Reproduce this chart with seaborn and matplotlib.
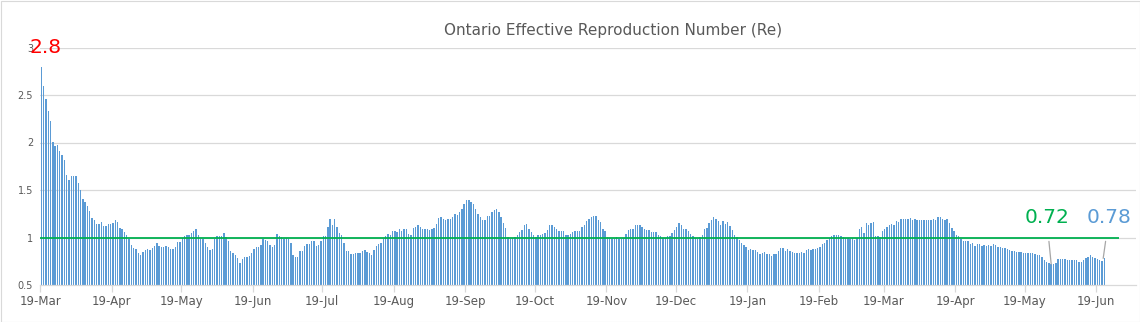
import numpy as np
import pandas as pd
import matplotlib
matplotlib.use("Agg")
import matplotlib.pyplot as plt
import seaborn as sns
from matplotlib.patches import Rectangle

# ---------------- data ----------------
start_date = "2020-03-19"

re_2020_mar_may = [
    2.80, 2.59, 2.46, 2.33, 2.23, 2.01, 1.96, 1.97, 1.91, 1.87,
    1.82, 1.66, 1.61, 1.65, 1.65, 1.65, 1.57, 1.50, 1.41, 1.37,
    1.33, 1.28, 1.21, 1.18, 1.14, 1.14, 1.16, 1.12, 1.12, 1.14,
    1.14, 1.15, 1.18, 1.16, 1.10, 1.09, 1.06, 1.03, 0.98, 0.92,
    0.89, 0.88, 0.84, 0.82, 0.85, 0.87, 0.88, 0.87, 0.89, 0.91,
    0.94, 0.91, 0.90, 0.90, 0.91, 0.90, 0.88, 0.88, 0.90, 0.95,
    0.95, 0.99, 1.02, 1.03, 1.03, 1.05, 1.07, 1.09, 1.03, 0.98,
    0.98, 0.94, 0.90, 0.87, 0.88, 0.98, 1.02, 1.02, 1.02, 1.05,
    1.01, 0.96,
]
re_2020_jun_aug = [
    0.86, 0.84, 0.82, 0.78, 0.73, 0.77, 0.79, 0.80, 0.81, 0.84,
    0.88, 0.90, 0.90, 0.92, 0.98, 0.97, 0.96, 0.92, 0.90, 0.92,
    1.04, 1.02, 1.01, 0.98, 1.00, 0.98, 0.94, 0.82, 0.79, 0.80,
    0.86, 0.86, 0.91, 0.93, 0.93, 0.96, 0.96, 0.91, 0.92, 0.96,
    1.02, 1.02, 1.11, 1.19, 1.13, 1.20, 1.11, 1.05, 1.03, 0.94,
    0.86, 0.86, 0.83, 0.83, 0.84, 0.84, 0.84, 0.86, 0.87, 0.85,
    0.84, 0.82, 0.87, 0.91, 0.93, 0.94, 0.98, 1.02, 1.04, 1.03,
    1.07, 1.07, 1.06, 1.09, 1.07, 1.09, 1.09, 1.04, 1.03, 1.10,
]
re_2020_sep_nov = [
    1.11, 1.13, 1.11, 1.09, 1.09, 1.09, 1.08, 1.09, 1.10, 1.14,
    1.21, 1.22, 1.19, 1.18, 1.19, 1.20, 1.22, 1.25, 1.24, 1.27,
    1.30, 1.35, 1.40, 1.40, 1.37, 1.35, 1.30, 1.25, 1.22, 1.18,
    1.18, 1.23, 1.23, 1.27, 1.29, 1.30, 1.27, 1.22, 1.15, 1.10,
    1.01, 0.98, 0.99, 1.01, 1.03, 1.06, 1.08, 1.13, 1.14, 1.09,
    1.06, 1.03, 1.01, 1.03, 1.03, 1.04, 1.05, 1.08, 1.13, 1.13,
    1.11, 1.09, 1.07, 1.07, 1.07, 1.03, 1.03, 1.04, 1.06, 1.07,
    1.07, 1.07, 1.11, 1.13, 1.17, 1.20, 1.22, 1.23, 1.23, 1.18,
    1.16, 1.09, 1.07,
]
re_2020_dec_2021_feb = [
    1.01, 0.99, 0.98, 0.98, 1.01, 0.98, 0.98, 1.00, 1.04, 1.08,
    1.09, 1.09, 1.13, 1.13, 1.13, 1.11, 1.09, 1.08, 1.08, 1.06,
    1.06, 1.06, 1.03, 1.02, 1.00, 0.99, 1.02, 1.02, 1.05, 1.08,
    1.11, 1.15, 1.13, 1.09, 1.09, 1.07, 1.04, 1.02, 1.00, 0.98,
    1.01, 1.03, 1.09, 1.10, 1.15, 1.18, 1.22, 1.19, 1.17, 1.13,
    1.17, 1.14, 1.16, 1.12, 1.08, 1.03, 1.01, 0.97, 0.94, 0.92,
    0.90, 0.87, 0.88, 0.87, 0.87, 0.85, 0.83, 0.84, 0.85, 0.83,
    0.83, 0.81, 0.83, 0.83, 0.86, 0.89, 0.89, 0.86, 0.88, 0.86,
    0.85, 0.84, 0.84, 0.84, 0.85, 0.84, 0.87, 0.88, 0.87, 0.88,
    0.88,
]
re_2021_feb_apr = [
    0.89, 0.90, 0.93, 0.94, 0.97, 0.99, 1.02, 1.03, 1.03, 1.03,
    1.02, 1.01, 1.00, 0.99, 0.98, 0.99, 0.97, 0.99, 1.09, 1.11,
    1.05, 1.15, 1.13, 1.15, 1.16, 1.02, 1.02, 1.01, 1.07, 1.09,
    1.11, 1.13, 1.14, 1.13, 1.17, 1.16, 1.19, 1.20, 1.20, 1.20,
    1.21, 1.18, 1.19, 1.18, 1.18, 1.18, 1.18, 1.18, 1.18, 1.18,
    1.19, 1.18, 1.22, 1.22, 1.20, 1.18, 1.19, 1.15, 1.10, 1.07,
    1.03, 1.02, 0.98, 0.96, 0.96, 0.96, 0.93, 0.94, 0.91, 0.93,
    0.93, 0.91, 0.92,
]
re_2021_may_jun = [
    0.91, 0.92, 0.91, 0.93, 0.92, 0.90, 0.90, 0.89, 0.89, 0.88,
    0.87, 0.86, 0.86, 0.85, 0.85, 0.85, 0.84, 0.84, 0.84, 0.84,
    0.84, 0.83, 0.82, 0.82, 0.80, 0.76, 0.74, 0.73, 0.72, 0.72,
    0.73, 0.77, 0.77, 0.77, 0.77, 0.76, 0.76, 0.76, 0.76, 0.76,
    0.74, 0.74, 0.76, 0.78, 0.80, 0.82, 0.80, 0.78, 0.77, 0.76,
    0.75, 0.78,
]

re_values = (re_2020_mar_may + re_2020_jun_aug + re_2020_sep_nov
             + re_2020_dec_2021_feb + re_2021_feb_apr + re_2021_may_jun)

threshold = 1.0
title_text = "Ontario Effective Reproduction Number (Re)"
y_ticks = [0.5, 1, 1.5, 2, 2.5, 3]
y_tick_labels = ["0.5", "1", "1.5", "2", "2.5", "3"]
first_label = "2.8"
min_label = "0.72"
last_label = "0.78"

# ---------------- frame ----------------
dates = pd.date_range(start_date, periods=len(re_values), freq="D")
df = pd.DataFrame({"day": np.arange(len(re_values)), "re": re_values})

sns.set_theme(style="white")
plt.rcParams["font.family"] = ["DejaVu Sans"]

W, H = 1140, 322
fig = plt.figure(figsize=(W / 100, H / 100), dpi=100)
ax = fig.add_axes([40 / W, 1 - 285 / H, (1136 - 40) / W, (285 - 47.5) / H])

bar_color = "#5B9BD5"
green = "#00B050"
text_gray = "#595959"
grid_gray = "#D9D9D9"

sns.barplot(data=df, x="day", y="re", native_scale=True, color=bar_color,
            saturation=1, width=0.6, errorbar=None, ax=ax, linewidth=0,
            zorder=2)

ax.set_ylim(0.5, 3.0)
ax.set_xlim(-0.55, 473.7)
ax.set_yticks(y_ticks)
ax.set_yticklabels(y_tick_labels)
for y in y_ticks[1:]:
    ax.axhline(y, color=grid_gray, lw=0.9, zorder=1)

# threshold line
ax.hlines(threshold, -0.5, 466.5, color=green, lw=1.3, zorder=3)

# monthly ticks on the 19th
tick_idx = [i for i, d in enumerate(dates) if d.day == 19]
ax.set_xticks([i - 0.5 for i in tick_idx])
ax.set_xticklabels([f"{dates[i].day}-{dates[i].strftime('%b')}" for i in tick_idx])

for s in ["left", "right", "top"]:
    ax.spines[s].set_visible(False)
ax.spines["bottom"].set_color(grid_gray)
ax.spines["bottom"].set_linewidth(0.9)
ax.tick_params(axis="x", length=5, width=0.9, color=grid_gray, pad=2,
               labelsize=8.5, labelcolor=text_gray, direction="out", bottom=True)
ax.tick_params(axis="y", length=0, pad=5, labelsize=7, labelcolor=text_gray)
ax.set_xlabel("")
ax.set_ylabel("")

# annotations
ax.text(1.9, 3.0, first_label, color="#FF0000", fontsize=14.5,
        ha="center", va="center", zorder=5)
min_idx = int(np.argmin(re_values))
ax.annotate(min_label, xy=(min_idx, re_values[min_idx]), xytext=(435, 1.21),
            color=green, fontsize=14.5, ha="center", va="center",
            arrowprops=dict(arrowstyle="-", color="#A6A6A6", lw=0.9,
                            shrinkA=8, shrinkB=0))
last_idx = len(re_values) - 1
ax.annotate(last_label, xy=(last_idx - 0.5, re_values[last_idx]), xytext=(462, 1.21),
            color=bar_color, fontsize=14.5, ha="center", va="center",
            arrowprops=dict(arrowstyle="-", color="#A6A6A6", lw=0.9,
                            shrinkA=8, shrinkB=0))

fig.text(613 / W, 1 - 30 / H, title_text, ha="center", va="center",
         fontsize=11, color=text_gray)

fig.patches.append(Rectangle((0.5 / W, 0.5 / H), (W - 1) / W, (H - 1) / H,
                             transform=fig.transFigure, fill=False,
                             edgecolor=grid_gray, lw=0.8))

fig.savefig("out.png", dpi=100, facecolor="white")
